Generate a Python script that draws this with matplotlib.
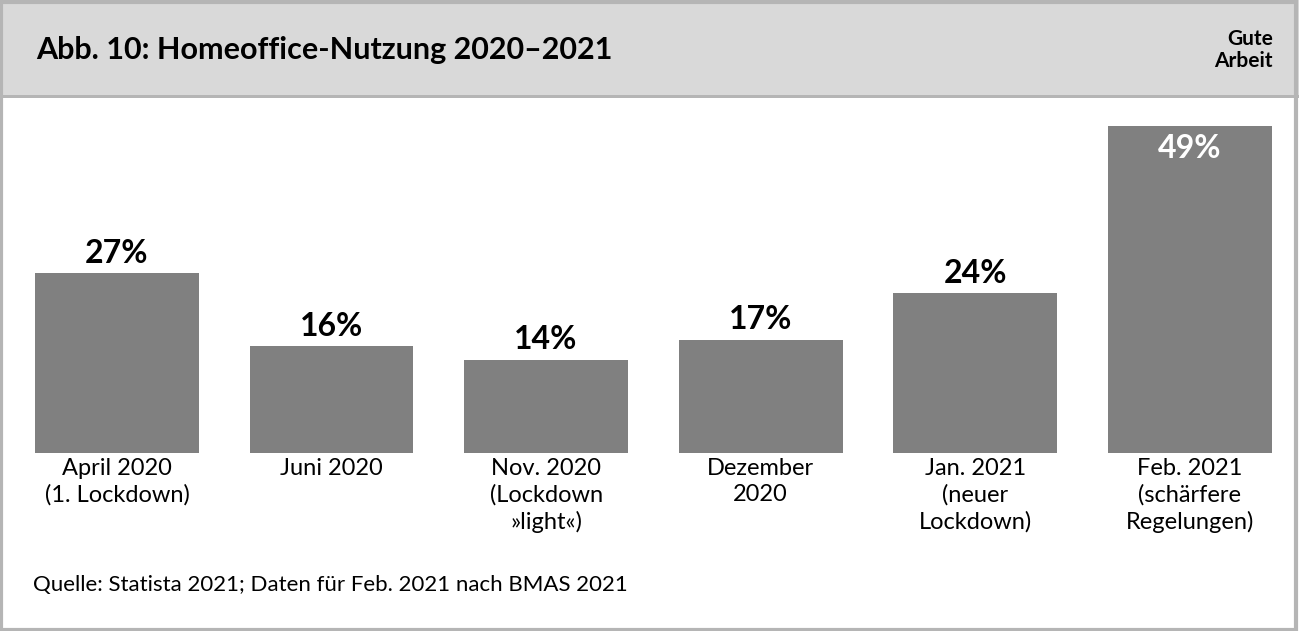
import matplotlib.pyplot as plt
from matplotlib.patches import Rectangle

categories = ["April 2020\n(1. Lockdown)", "Juni 2020", "Nov. 2020\n(Lockdown\n»light«)",
              "Dezember\n2020", "Jan. 2021\n(neuer\nLockdown)", "Feb. 2021\n(schärfere\nRegelungen)"]
values = [27, 16, 14, 17, 24, 49]
labels = ["27%", "16%", "14%", "17%", "24%", "49%"]

plt.rcParams['font.family'] = 'Lato'
W, H = 1299, 631
fig = plt.figure(figsize=(W / 100, H / 100), dpi=100)

# header band and frame
fig.patches.append(Rectangle((0, (H - 96) / H), 1, 96 / H, transform=fig.transFigure,
                             facecolor='#d9d9d9', edgecolor='none', zorder=0))
fig.patches.append(Rectangle((0, (H - 98) / H), 1, 3 / H, transform=fig.transFigure,
                             facecolor='#b5b5b5', edgecolor='none', zorder=0))
fig.patches.append(Rectangle((0.001, 0.002), 0.997, 0.995, transform=fig.transFigure,
                             facecolor='none', edgecolor='#b5b5b5', linewidth=3, zorder=5))
fig.text(36 / W, 1 - 50 / H, "Abb. 10: Homeoffice-Nutzung 2020–2021", fontsize=22,
         fontweight='bold', va='center', ha='left')
fig.text(1273 / W, 1 - 50 / H, "Gute\nArbeit", fontsize=15, fontweight='bold',
         va='center', ha='right', linespacing=1.15)
fig.text(33 / W, 1 - 585 / H, "Quelle: Statista 2021; Daten für Feb. 2021 nach BMAS 2021",
         fontsize=16, va='center', ha='left')

left, right = 9.7, 1297
bottom, top = 453, 100
ax = fig.add_axes([left / W, (H - bottom) / H, (right - left) / W, (bottom - top) / H])
ax.set_xlim(-0.5, 5.5)
ax.set_ylim(0, (bottom - top) / 6.67)
ax.axis('off')

x = range(len(values))
ax.bar(x, values, width=0.764, color='#808080')
for i, (v, l) in enumerate(zip(values, labels)):
    if v > 40:
        ax.text(i, v - 1.2, l, ha='center', va='top', fontsize=23, fontweight='bold', color='white')
    else:
        ax.text(i, v + 0.8, l, ha='center', va='bottom', fontsize=23, fontweight='bold', color='black')
    ax.text(i, -0.7, categories[i], ha='center', va='top', fontsize=17, linespacing=1.3,
            clip_on=False)

fig.savefig('out.png', dpi=100)
